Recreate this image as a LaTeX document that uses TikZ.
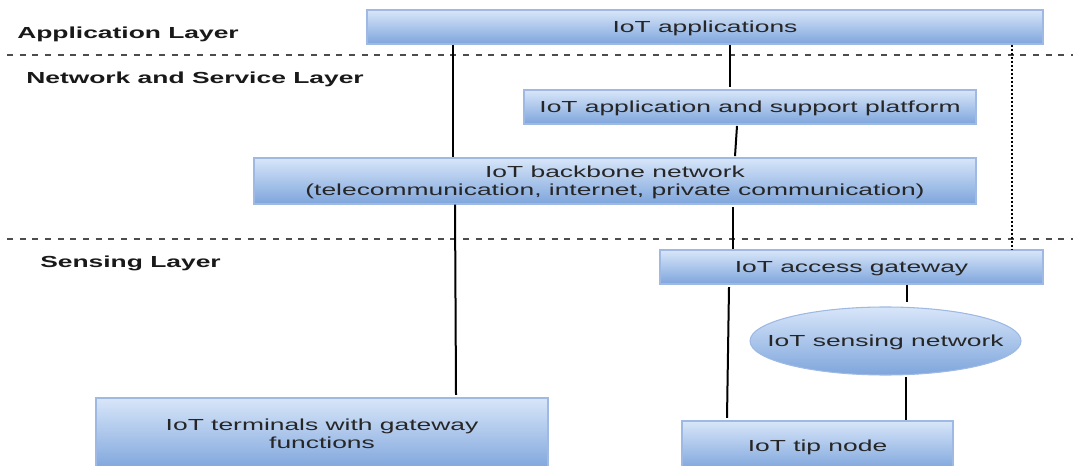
\documentclass[tikz,border=0pt]{standalone}
\usepackage{fontspec}
\setmainfont[FakeStretch=1.65]{Liberation Sans}
\usetikzlibrary{shapes.geometric}
\definecolor{boxtop}{HTML}{D8E6F9}
\definecolor{boxbot}{HTML}{7EA5DC}
\definecolor{boxline}{HTML}{9DB9E4}
\tikzset{
  px/.style={x=0.75pt,y=-0.75pt},
  boxfont/.style={font=\fontsize{12}{13.2}\selectfont, text=black!85},
  box/.style={rectangle, draw=boxline, line width=0.8pt, top color=boxtop, bottom color=boxbot,
    inner sep=0pt, align=center, text depth=0pt, boxfont},
  ellbox/.style={ellipse, draw=boxline, line width=0.8pt, top color=boxtop, bottom color=boxbot,
    inner sep=0pt},
  layer/.style={anchor=base west, inner sep=0pt, font=\fontsize{12}{13.2}\selectfont\bfseries, text=black!90},
  conn/.style={line width=1.5pt, black},
  dotconn/.style={line width=1.4pt, black, dash pattern=on 1.5pt off 1.5pt},
  sep/.style={line width=0.9pt, black!70, dash pattern=on 4.5pt off 5pt}
}
\begin{document}
\begin{tikzpicture}[px]
\useasboundingbox (0,0) rectangle (1073,466);
\clip (0,0) rectangle (1073,466);
% layer separators
\draw[sep] (7,55) -- (1073,55);
\draw[sep] (7,239) -- (1073,239);
% layer labels
\node[layer] (lapp) at (17,39) {Application Layer};
\node[layer] (lnet) at (26,84) {Network and Service Layer};
\node[layer] (lsen) at (40,267.5) {Sensing Layer};
% boxes
\node[box, minimum width=507pt, minimum height=25.5pt] (apps) at (705,27) {IoT applications};
\node[box, minimum width=339pt, minimum height=25.5pt] (plat) at (750,107) {IoT application and support platform};
\node[box, minimum width=541.5pt, minimum height=34.5pt] (back) at (615,181) {IoT backbone network\\(telecommunication, internet, private communication)};
\node[box, minimum width=287.25pt, minimum height=25.5pt] (gate) at (851.5,267) {IoT access gateway};
\node[ellbox, minimum width=203.25pt, minimum height=51pt,
      label={[boxfont, inner sep=0pt, text depth=0pt]center:IoT sensing network}] (sens) at (885.5,341) {};
\node[box, minimum width=203.25pt, minimum height=36.75pt] (tip) at (817.5,445.5) {IoT tip node};
\node[box, minimum width=339pt, minimum height=54pt] (term) at (322,434) {IoT terminals with gateway\\functions};
% connectors
\draw[conn] (apps.south -| 453,0) -- (back.north -| 453,0);
\draw[conn] (apps.south -| 730,0) -- ([yshift=1.5pt]plat.north -| 730,0);
\draw[conn] ([yshift=-1pt]plat.south -| 737,0) -- ([yshift=1pt]back.north -| 735,0);
\draw[conn] (back.south -| 455,0) -- ([yshift=2pt]term.north -| 456,0);
\draw[conn] ([yshift=-2pt]back.south -| 733,0) -- (gate.north -| 733,0);
\draw[dotconn] (apps.south -| 1012,0) -- (gate.north -| 1012,0);
\draw[conn] ([yshift=-2pt]gate.south -| 729,0) -- ([yshift=2pt]tip.north -| 727,0);
\draw[conn] (gate.south -| 907,0) -- ([yshift=3pt]sens.north -| 907,0);
\draw[conn] ([yshift=-1pt]sens.south -| 906,0) -- (tip.north -| 906,0);
\end{tikzpicture}
\end{document}
